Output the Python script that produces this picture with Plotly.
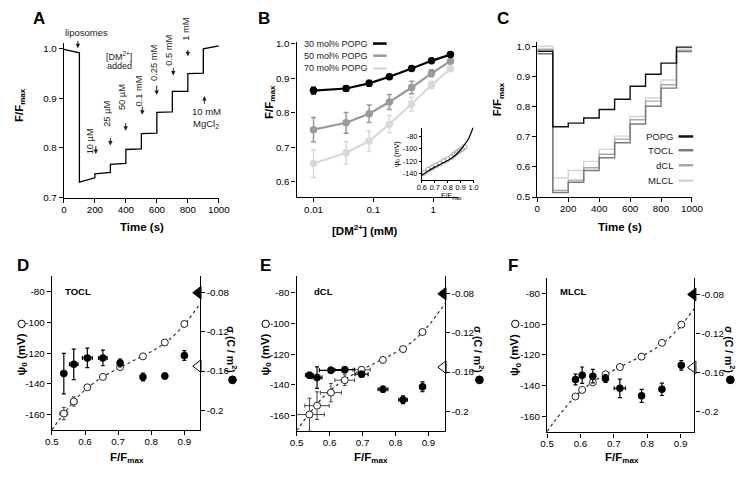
import plotly.graph_objects as go

W, H = 754, 479
FONT = "Liberation Sans, Arial, sans-serif"

# ---------------- data ----------------
# Panel A: single trace, (start, end) level of every step
a_time = [0, 100, 100, 200, 200, 300, 300, 400, 400, 500, 500, 600, 600, 700, 700, 800, 800, 900, 900, 1000]
a_ratio = [0.999, 0.992, 0.731, 0.740, 0.748, 0.751, 0.767, 0.769, 0.797, 0.798,
           0.829, 0.830, 0.872, 0.873, 0.914, 0.914, 0.950, 0.951, 1.000, 1.006]
a_add_labels = ["10 µM", "25 µM", "50 µM", "0.1 mM", "0.25 mM", "0.5 mM", "1 mM"]

# Panel B
b_conc = [0.01, 0.035, 0.085, 0.185, 0.435, 0.935, 1.935]
b_30 = [0.864, 0.870, 0.885, 0.904, 0.928, 0.950, 0.968]
b_30_err = [0.010, 0.008, 0.008, 0.005, 0.005, 0.004, 0.004]
b_50 = [0.751, 0.771, 0.797, 0.831, 0.873, 0.914, 0.949]
b_50_err = [0.035, 0.030, 0.025, 0.022, 0.018, 0.010, 0.005]
b_70 = [0.653, 0.684, 0.718, 0.767, 0.825, 0.880, 0.927]
b_70_err = [0.040, 0.032, 0.030, 0.025, 0.020, 0.010, 0.005]
b_series = ["30 mol% POPG", "50 mol% POPG", "70 mol% POPG"]

# inset of B
inset_x = [0.62, 0.65, 0.68, 0.71, 0.74, 0.77, 0.80, 0.83, 0.85, 0.87, 0.89, 0.91, 0.93]
inset_psi = [-139, -134, -131, -127, -124, -120, -117, -113, -109, -106, -103, -100, -97]

# Gouy-Chapman calibration curve (psi0 vs F/Fmax)
gc_x = [0.5, 0.52, 0.54, 0.57, 0.6, 0.65, 0.7, 0.75, 0.8, 0.85, 0.9, 0.93, 0.95, 0.97, 1.0]
gc_y = [-170, -164, -158.5, -150.5, -144, -136, -130, -124.5, -119, -112, -101.5, -93, -87, -79, -63]

# Panel C
c_time = [0, 100, 200, 300, 400, 500, 600, 700, 800, 900, 1000]
c_popg = [0.983, 0.733, 0.745, 0.762, 0.790, 0.824, 0.867, 0.907, 0.944, 0.997, 0.999]
c_tocl = [0.975, 0.515, 0.549, 0.588, 0.630, 0.680, 0.742, 0.801, 0.861, 0.982, 0.984]
c_dcl = [0.990, 0.522, 0.556, 0.597, 0.642, 0.692, 0.756, 0.818, 0.872, 0.985, 0.987]
c_mlcl = [1.000, 0.563, 0.588, 0.618, 0.658, 0.702, 0.767, 0.828, 0.888, 0.990, 0.992]
c_names = ["POPG", "TOCL", "dCL", "MLCL"]

# Panel D (TOCL)
d_x = [0.536, 0.566, 0.607, 0.654, 0.706, 0.775, 0.841, 0.900]
d_xerr = [0.012, 0.010, 0.006, 0.006, 0.004, 0.003, 0.003, 0.003]
d_psi = [-159.4, -151.5, -142.3, -135.5, -129.1, -122.1, -113.1, -101.0]
d_psi_err = [4, 3, 1.5, 1, 1, 1, 1, 1]
d_sigma = [-0.1626, -0.1532, -0.1466, -0.1466, -0.1519, -0.1660, -0.1650, -0.1442]
d_sigma_err = [0.0207, 0.0155, 0.0100, 0.0080, 0.0040, 0.0040, 0.0030, 0.0050]
d_sigma_xerr = [0.008, 0.013, 0.015, 0.013, 0.005, 0.004, 0.004, 0.003]

# Panel E (dCL)
e_x = [0.539, 0.562, 0.604, 0.646, 0.697, 0.762, 0.823, 0.882]
e_xerr = [0.045, 0.037, 0.032, 0.030, 0.026, 0.006, 0.006, 0.004]
e_psi = [-159.4, -153.6, -145.1, -137.0, -130.2, -123.8, -116.7, -105.6]
e_psi_err = [10.7, 9, 6, 3.5, 2, 1.5, 1.5, 1.5]
e_sigma = [-0.1632, -0.1656, -0.1582, -0.1576, -0.1622, -0.1776, -0.1883, -0.1750]
e_sigma_err = [0.003, 0.011, 0.003, 0.003, 0.003, 0.003, 0.004, 0.005]
e_sigma_xerr = [0.012, 0.015, 0.035, 0.030, 0.020, 0.015, 0.013, 0.003]

# Panel F (MLCL)
f_x = [0.585, 0.605, 0.637, 0.675, 0.718, 0.783, 0.844, 0.902]
f_xerr = [0.003, 0.003, 0.003, 0.003, 0.003, 0.003, 0.003, 0.003]
f_psi = [-147.2, -142.9, -138.0, -132.7, -128.0, -121.2, -112.2, -100.3]
f_psi_err = [1, 1, 1, 1, 1, 1, 1, 1]
f_sigma = [-0.1674, -0.1630, -0.1640, -0.1664, -0.1765, -0.1842, -0.1775, -0.1529]
f_sigma_err = [0.0055, 0.0084, 0.0070, 0.0040, 0.0095, 0.0067, 0.0064, 0.0050]
f_sigma_xerr = [0.004, 0.004, 0.004, 0.004, 0.017, 0.004, 0.003, 0.003]

# reference triangles (sigma of pure lipids)
tri_sigma = [-0.08, -0.155]

# ---------------- helpers ----------------
TICKSIZE = 9.8


def fx(px):
    return px / W


def fy(py):
    return 1 - py / H


def axis(dom, rng, **kw):
    d = dict(domain=dom, range=rng, showline=True, linecolor="black", linewidth=1.3,
             ticks="outside", ticklen=4, tickwidth=1.2, tickcolor="black",
             showgrid=False, zeroline=False,
             tickfont=dict(size=TICKSIZE, color="black", family=FONT))
    d.update(kw)
    return d


fig = go.Figure()
annotations = []
shapes = []


def txt(x, y, text, size=9.5, angle=0, bold=False, xanchor="center", color="black"):
    t = f"<b>{text}</b>" if bold else text
    annotations.append(dict(xref="paper", yref="paper", x=fx(x), y=fy(y), text=t,
                            showarrow=False, textangle=angle, xanchor=xanchor, yanchor="middle",
                            font=dict(size=size, family=FONT, color=color)))


# ---------------- Panel A ----------------
fig.add_trace(go.Scatter(x=a_time, y=a_ratio, mode="lines", line=dict(color="black", width=1.3),
                         xaxis="x", yaxis="y"))
# label centres in pixels, arrows in data units
a_text_px = [(85, 140), (101.7, 111.7), (117.7, 95), (135, 88.3), (150.7, 60), (166.3, 47.3), (182.7, 26)]
a_arrows = [(206, 0.807, 0.788), (300, 0.823, 0.805), (399, 0.853, 0.835), (506, 0.886, 0.867),
            (599, 0.929, 0.907), (706, 0.964, 0.946), (800, 1.001, 0.985)]
for lab, (tx, ty), (ax_, y0, y1) in zip(a_add_labels, a_text_px, a_arrows):
    txt(tx, ty, lab, size=9.3, angle=-90, color="#222")
    annotations.append(dict(xref="x", yref="y", axref="x", ayref="y", x=ax_, y=y1, ax=ax_, ay=y0,
                            text="", showarrow=True, arrowhead=2, arrowsize=0.9, arrowwidth=1,
                            arrowcolor="#222", standoff=0, startstandoff=0))
txt(81.7, 29, "liposomes", size=9.5, color="#222")
annotations.append(dict(xref="x", yref="y", axref="x", ayref="y", x=90, y=1.001, ax=90, ay=1.019,
                        text="", showarrow=True, arrowhead=2, arrowsize=0.9, arrowwidth=1,
                        arrowcolor="#222", standoff=0))
txt(115, 53.3, "[DM<sup>2+</sup>]", size=9, color="#222")
txt(115, 63.3, "added", size=9, color="#222")
annotations.append(dict(xref="x", yref="y", axref="x", ayref="y", x=907, y=0.905, ax=907, ay=0.886,
                        text="", showarrow=True, arrowhead=2, arrowsize=0.9, arrowwidth=1,
                        arrowcolor="#222", standoff=0))
txt(204, 110, "10 mM", size=9.5, color="#222")
txt(204, 122, "MgCl<sub>2</sub>", size=9.5, color="#222")

# ---------------- Panel B ----------------
b_colors = ["black", "#9a9a9a", "#d9d9d9"]
for vals, errs, col in [(b_70, b_70_err, b_colors[2]), (b_50, b_50_err, b_colors[1]), (b_30, b_30_err, b_colors[0])]:
    fig.add_trace(go.Scatter(x=b_conc, y=vals, mode="lines+markers",
                             error_y=dict(type="data", array=errs, color=col, thickness=1.5, width=2.5),
                             line=dict(color=col, width=2.2), marker=dict(color=col, size=7.5),
                             xaxis="x2", yaxis="y2"))
for name, col, yy in zip(b_series, b_colors, [40.3, 52.7, 65.7]):
    txt(372, yy, name, size=9, xanchor="right", color="#222")
    shapes.append(dict(type="line", xref="paper", yref="paper", x0=fx(375), x1=fx(389), y0=fy(yy), y1=fy(yy),
                       line=dict(color=col, width=2.5)))

# inset
fig.add_trace(go.Scatter(x=inset_x, y=inset_psi, mode="markers",
                         marker=dict(symbol="circle-open", color="#a0a0a0", size=5, line=dict(width=1)),
                         xaxis="x3", yaxis="y3"))
fig.add_trace(go.Scatter(x=gc_x, y=gc_y, mode="lines", line=dict(color="black", width=1.2, shape="spline"),
                         xaxis="x3", yaxis="y3"))

# ---------------- Panel C ----------------
c_colors = ["#111111", "#7a7a7a", "#a8a8a8", "#d4d4d4"]
for vals, col in [(c_mlcl, c_colors[3]), (c_dcl, c_colors[2]), (c_tocl, c_colors[1]), (c_popg, c_colors[0])]:
    fig.add_trace(go.Scatter(x=c_time, y=vals, mode="lines", line=dict(color=col, width=1.4, shape="hv"),
                             xaxis="x4", yaxis="y4"))
for name, col, yy in zip(c_names, c_colors, [135, 149, 164.3, 180]):
    txt(684, yy, name, size=9.5, xanchor="right", color="#222")
    shapes.append(dict(type="line", xref="paper", yref="paper", x0=fx(688), x1=fx(703), y0=fy(yy), y1=fy(yy),
                       line=dict(color=col, width=2.5)))

# ---------------- Panels D, E, F ----------------
panels = [
    ("x5", "y5", "y6", d_x, d_xerr, d_psi, d_psi_err, d_sigma, d_sigma_err, d_sigma_xerr, 0.946),
    ("x6", "y7", "y8", e_x, e_xerr, e_psi, e_psi_err, e_sigma, e_sigma_err, e_sigma_xerr, 0.949),
    ("x7", "y9", "y10", f_x, f_xerr, f_psi, f_psi_err, f_sigma, f_sigma_err, f_sigma_xerr, 0.9415),
]
for xa, ya, ys, xs, xe, ps, pe, sg, se, sxe, xmax in panels:
    fig.add_trace(go.Scatter(x=gc_x, y=gc_y, mode="lines",
                             line=dict(color="#333", width=1.2, dash="dot", shape="spline"),
                             xaxis=xa, yaxis=ya))
    fig.add_trace(go.Scatter(x=xs, y=ps, mode="markers",
                             error_x=dict(type="data", array=xe, color="#444", thickness=1, width=2),
                             error_y=dict(type="data", array=pe, color="#444", thickness=1, width=2),
                             marker=dict(color="white", size=7, line=dict(color="#222", width=1)),
                             xaxis=xa, yaxis=ya))
    fig.add_trace(go.Scatter(x=xs, y=sg, mode="markers",
                             error_x=dict(type="data", array=sxe, color="black", thickness=1.2, width=2),
                             error_y=dict(type="data", array=se, color="black", thickness=1.2, width=2),
                             marker=dict(color="black", size=7.5),
                             xaxis=xa, yaxis=ys))
    fig.add_trace(go.Scatter(x=[xmax - 0.004, xmax - 0.004], y=tri_sigma, mode="markers", cliponaxis=False,
                             marker=dict(symbol="triangle-left", size=11, color=["black", "white"],
                                         line=dict(color="black", width=1)),
                             xaxis=xa, yaxis=ys))

# ---------------- layout ----------------
tv_psi = [-160, -140, -120, -100, -80]
tv_sig = [-0.2, -0.16, -0.12, -0.08]
tv_f = [0.5, 0.6, 0.7, 0.8, 0.9]


def lefty(dom, rng, anchor):
    return axis(dom, rng, anchor=anchor, tickvals=tv_psi, ticktext=[str(v) for v in tv_psi])


def righty(rng, anchor, over):
    d = axis(None, rng, anchor=anchor, overlaying=over, side="right", tickvals=tv_sig,
             ticktext=["-0.2", "-0.16", "-0.12", "-0.08"])
    d.pop("domain")
    return d


def fxaxis(dom, rng, anchor):
    return axis(dom, rng, anchor=anchor, tickvals=tv_f, ticktext=[str(v) for v in tv_f], ticklabelstandoff=-2)


layout = dict(
    width=W, height=H, autosize=False, showlegend=False,
    margin=dict(l=0, r=0, t=0, b=0, pad=0), paper_bgcolor="white", plot_bgcolor="white",
    font=dict(family=FONT, color="black"),
    xaxis=axis([fx(58.3), fx(217)], [0, 1000], anchor="y", tickvals=[0, 200, 400, 600, 800, 1000],
               ticklabelstandoff=-2),
    yaxis=axis([fy(197.3), fy(40)], [0.7, 1.0112], anchor="x", tickvals=[0.7, 0.8, 0.9, 1.0],
               ticktext=["0.7", "0.8", "0.9", "1.0"]),
    xaxis2=axis([fx(296.7), fx(461.7)], [-2.282, 0.408], type="log", anchor="y2",
                tickvals=[0.01, 0.1, 1], ticktext=["0.01", "0.1", "1"], ticklabelstandoff=-1),
    yaxis2=axis([fy(196.7), fy(39)], [0.5563, 1.0037], anchor="x2", tickvals=[0.6, 0.7, 0.8, 0.9, 1.0],
                ticktext=["0.6", "0.7", "0.8", "0.9", "1.0"]),
    xaxis3=axis([fx(425), fx(478)], [0.6, 1.0], anchor="y3", ticklen=2, linewidth=1,
                tickvals=[0.6, 0.7, 0.8, 0.9, 1.0], ticktext=["0.6", "0.7", "0.8", "0.9", "1.0"],
                tickfont=dict(size=7.3, family=FONT, color="black"), ticklabelstandoff=-2),
    yaxis3=axis([fy(179.3), fy(126)], [-151, -65], anchor="x3", ticklen=2, linewidth=1,
                tickvals=[-140, -120, -100, -80], ticktext=["-140", "-120", "-100", "-80"],
                tickfont=dict(size=7.3, family=FONT, color="black")),
    xaxis4=axis([fx(543.3), fx(701.7)], [0, 1000], anchor="y4", tickvals=[0, 200, 400, 600, 800, 1000],
                ticklabelstandoff=-2),
    yaxis4=axis([fy(196.7), fy(39)], [0.5, 1.013], anchor="x4", tickvals=[0.5, 0.6, 0.7, 0.8, 0.9, 1.0],
                ticktext=["0.5", "0.6", "0.7", "0.8", "0.9", "1.0"]),
    xaxis5=fxaxis([fx(46), fx(197.3)], [0.5, 0.946], "y5"),
    yaxis5=lefty([fy(434.3), fy(276.7)], [-170.2, -69.4], "x5"),
    yaxis6=righty([-0.2204, -0.0624], "x5", "y5"),
    xaxis6=fxaxis([fx(296.7), fx(448.3)], [0.5, 0.949], "y7"),
    yaxis7=lefty([fy(435), fy(277.7)], [-170.0, -69.4], "x6"),
    yaxis8=righty([-0.2200, -0.0624], "x6", "y7"),
    xaxis7=fxaxis([fx(553.3), fx(704.3)], [0.5, 0.9415], "y9"),
    yaxis9=lefty([fy(436.7), fy(279.3)], [-170.7, -69.95], "x7"),
    yaxis10=righty([-0.2219, -0.0632], "x7", "y9"),
)

# panel letters
for letter, (x, y) in zip("ABCDEF", [(33, 15), (263.3, 15), (508.3, 15), (16.7, 266.7), (265, 266.7), (518.3, 266.7)]):
    txt(x, y, letter, size=17, bold=True)

# axis titles
FF = "F/F<sub>max</sub>"
txt(13.3, 103, FF, size=11.5, angle=-90, bold=True)
txt(138, 227, "Time (s)", size=11.5, bold=True)
txt(269.3, 100, FF, size=11.5, angle=-90, bold=True)
txt(366.7, 230, "[DM<sup>2+</sup>] (mM)", size=11.5, bold=True)
txt(503.3, 96.7, FF, size=11.5, angle=-90, bold=True)
txt(628, 227, "Time (s)", size=11.5, bold=True)
# inset titles
txt(399.5, 153, "ψ<sub>0</sub> (mV)", size=7.3, angle=-90)
txt(455, 196, FF, size=7.3)

# D-F titles and labels
for (lx, rx, fxc, lab, labx) in [(15, 231, 123.3, "TOCL", 73), (265, 484, 373.3, "dCL", 324),
                                 (520.7, 741, 630, "MLCL", 580)]:
    txt(lx, 357.5, "ψ<sub>0</sub> (mV)", size=11.5, angle=-90, bold=True)
    shapes.append(dict(type="circle", xref="paper", yref="paper", x0=fx(lx - 3.8), x1=fx(lx + 3.8),
                       y0=fy(329.8), y1=fy(322.2), line=dict(color="black", width=1), fillcolor="white"))
    txt(rx, 352, "σ (C / m<sup>2</sup>)", size=10.5, angle=90, bold=True)
    shapes.append(dict(type="circle", xref="paper", yref="paper", x0=fx(rx - 4), x1=fx(rx + 4),
                       y0=fy(387), y1=fy(379), line=dict(color="black", width=1), fillcolor="black"))
    txt(fxc, 463, FF, size=11.5, bold=True)
    txt(labx, 293.5, lab, size=9.5, bold=True)

layout["annotations"] = annotations
layout["shapes"] = shapes
fig.update_layout(**layout)
fig.write_html("out.html", config={"displayModeBar": False},
               post_script="document.body.style.margin='0px';")
